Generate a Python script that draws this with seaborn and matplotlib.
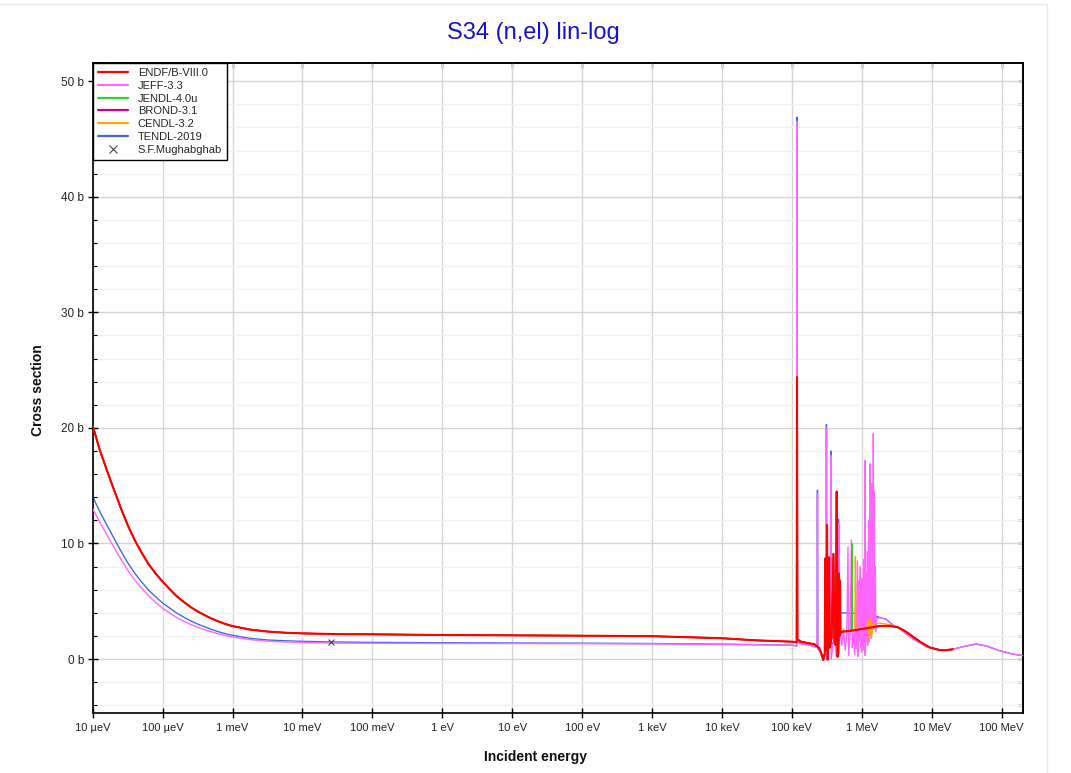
import numpy as np
import pandas as pd
import matplotlib
matplotlib.use("Agg")
import matplotlib.pyplot as plt
import seaborn as sns
from matplotlib.ticker import FixedLocator, MultipleLocator, NullLocator, NullFormatter
from matplotlib.lines import Line2D
from matplotlib.patches import Rectangle

sns.set_style("white")
plt.rcParams['font.family'] = ['Liberation Sans', 'DejaVu Sans']

# ---------------- data (energy in eV, cross section in b) ----------------
low_E = [1e-5, 1.26e-5, 1.58e-5, 2.0e-5, 2.51e-5, 3.16e-5, 3.98e-5, 5.01e-5, 6.31e-5, 7.94e-5,
         1e-4, 1.26e-4, 1.58e-4, 2.0e-4, 2.51e-4, 3.16e-4, 3.98e-4, 5.01e-4, 6.31e-4, 7.94e-4,
         1e-3, 1.78e-3, 3.16e-3, 5.62e-3, 1e-2]

endf_low_s = [20.2, 18.1, 16.4, 14.7, 13.1, 11.6, 10.3, 9.2, 8.2, 7.4,
              6.7, 6.05, 5.45, 4.95, 4.5, 4.12, 3.8, 3.5, 3.25, 3.03,
              2.85, 2.55, 2.38, 2.28, 2.22]
tendl_low_s = [14.05, 12.77, 11.64, 10.49, 9.39, 8.35, 7.44, 6.67, 5.96, 5.39,
               4.85, 4.41, 3.99, 3.63, 3.31, 3.03, 2.79, 2.56, 2.36, 2.19,
               2.05, 1.79, 1.65, 1.58, 1.53]
jeff_low_s = [13.0, 11.85, 10.8, 9.7, 8.68, 7.7, 6.85, 6.13, 5.47, 4.9,
              4.4, 3.98, 3.6, 3.28, 3.0, 2.75, 2.54, 2.35, 2.18, 2.03,
              1.91, 1.68, 1.55, 1.48, 1.44]

endf_hi_E = [3e-2, 0.1, 1, 10, 100, 1e3, 1e4, 3e4,
             1e5, 1.17e5, 1.183e5, 1.2e5, 1.35e5, 1.7e5, 2.1e5, 2.45e5, 2.65e5, 2.8e5, 2.95e5,
             3.01e5, 3.08e5, 3.13e5, 3.18e5, 3.25e5, 3.33e5, 3.40e5, 3.48e5, 3.7e5, 3.93e5,
             4.05e5, 4.25e5, 4.37e5, 4.5e5, 4.65e5, 4.71e5, 4.8e5, 4.87e5, 4.95e5, 5.2e5, 7e5,
             1e6, 1.8e6, 2.5e6, 3.3e6, 4.2e6, 5.4e6, 7e6, 9.3e6, 1.3e7, 1.6e7, 2e7]
endf_hi_s = [2.16, 2.14, 2.08, 2.05, 2.02, 1.98, 1.8, 1.62,
             1.5, 1.45, 24.4, 1.7, 1.5, 1.38, 1.28, 0.95, 0.45, -0.08, 0.5,
             8.7, 1.9, 0.8, 11.6, -0.05, 1.5, 8.8, 1.0, 1.8, 9.1,
             1.6, 1.2, 14.5, 0.2, 1.5, 7.4, 2.0, 6.8, 2.2, 2.36, 2.45,
             2.6, 2.86, 2.87, 2.74, 2.4, 1.93, 1.45, 1.01, 0.78, 0.76, 0.84]

jendl_extra_E = [7.1e5, 7.2e5, 7.3e5]
jendl_extra_s = [2.45, 10.0, 2.46]

cendl_high_E = [5.2e5, 7.5e5, 8.0e5, 8.1e5, 8.2e5, 1.1e6, 1.2e6, 1.24e6, 1.28e6, 1.33e6,
                1.38e6, 1.45e6, 1.8e6, 2.4e6, 3.5e6, 4.2e6, 5.4e6, 7e6, 9.3e6, 1.3e7, 1.6e7, 2e7]
cendl_high_s = [2.4, 2.5, 2.55, 8.85, 2.55, 2.7, 2.8, 3.4, 1.6, 3.5,
                1.9, 3.0, 3.1, 3.0, 2.7, 2.38, 1.93, 1.45, 1.01, 0.78, 0.76, 0.84]

tendl_hi_E = [2.53e-2, 0.1, 1, 10, 100, 1e3, 1e4, 3e4,
              1e5, 1.17e5, 1.183e5, 1.2e5, 1.4e5, 1.8e5, 2.2e5, 2.3e5, 2.32e5, 2.35e5, 2.55e5,
              2.75e5, 2.85e5, 3.0e5, 3.08e5, 3.12e5, 3.17e5, 3.4e5, 3.55e5, 3.6e5, 3.66e5, 4.1e5,
              4.55e5, 4.67e5, 4.78e5, 4.9e5, 9e5, 1.37e6, 1.8e6, 2.24e6, 2.79e6, 3.48e6, 4.83e6,
              8.37e6, 1.3e7, 2e7, 2.8e7, 4.33e7, 6.03e7, 9.36e7, 1.45e8, 2e8]
tendl_hi_s = [1.48, 1.44, 1.41, 1.39, 1.37, 1.34, 1.29, 1.25,
              1.21, 1.14, 46.9, 1.5, 1.3, 1.22, 1.05, 1.4, 14.6, 0.9, 0.6,
              0.05, -0.08, 0.5, 2.0, 20.3, 1.0, 1.8, 2.2, 18.0, 1.2, 1.7,
              2.3, 12.1, 3.0, 4.0, 3.95, 3.85, 3.6, 3.43, 2.94, 2.65, 1.93,
              1.07, 0.78, 0.84, 1.07, 1.30, 1.13, 0.72, 0.43, 0.29]

jeff_hi_E = [2.53e-2, 0.1, 1, 10, 100, 1e3, 1e4, 3e4,
             1e5, 1.17e5, 1.183e5, 1.2e5, 1.4e5, 1.8e5, 2.2e5, 2.3e5, 2.32e5, 2.35e5, 2.55e5,
             2.75e5, 2.85e5, 3.0e5, 3.08e5, 3.12e5, 3.17e5, 3.3e5, 3.55e5, 3.6e5, 3.66e5, 3.85e5,
             4.1e5, 4.3e5, 4.55e5, 4.67e5, 4.75e5, 4.9e5, 5.2e5, 5.5e5, 5.8e5, 6.1e5, 6.34e5,
             6.5e5, 6.8e5, 7.1e5, 7.3e5, 7.6e5, 7.9e5, 8.1e5, 8.3e5, 8.5e5, 8.65e5, 8.8e5, 8.9e5,
             9.05e5, 9.2e5, 9.35e5, 9.45e5,
             9.53e5, 9.65e5, 9.8e5, 9.9e5, 1.0e6, 1.015e6, 1.03e6, 1.045e6, 1.06e6, 1.075e6,
             1.09e6, 1.1e6, 1.11e6, 1.125e6, 1.14e6, 1.155e6, 1.17e6, 1.185e6, 1.2e6, 1.215e6,
             1.23e6, 1.24e6, 1.25e6, 1.265e6, 1.28e6, 1.295e6, 1.31e6, 1.33e6, 1.35e6, 1.37e6,
             1.4e6, 1.42e6, 1.44e6, 1.45e6, 1.46e6, 1.48e6, 1.5e6, 1.52e6, 1.54e6, 1.56e6,
             1.58e6, 1.6e6, 1.65e6, 1.72e6, 1.8e6, 2.24e6, 2.79e6, 3.48e6, 4.83e6, 8.37e6,
             1.3e7, 2e7, 2.8e7, 4.33e7, 6.03e7, 9.36e7, 1.45e8, 2e8]
jeff_hi_s = [1.38, 1.36, 1.35, 1.34, 1.33, 1.31, 1.27, 1.23,
             1.19, 1.12, 46.5, 1.45, 1.27, 1.2, 1.0, 1.35, 14.3, 0.9, 0.6,
             0.05, -0.08, 0.5, 2.0, 20.0, -0.05, 1.3, 2.0, 17.6, -0.05, 1.2,
             1.5, 0.3, 2.0, 11.7, 0.5, 3.0, 1.2, 2.6, 0.8, 2.2, 9.7,
             0.3, 2.0, 10.3, 1.0, 2.4, 0.4, 4.5, 0.9, 5.5, 8.5, 1.2, 0.2,
             6.0, 6.8, 1.5, 7.2,
             8.0, 1.0, 5.5, 0.6, 7.0, 2.0, 6.2, 0.8, 8.6, 1.0,
             5.0, 0.3, 17.2, 0.5, 7.5, 1.5, 6.0, 2.0, 9.3, 1.2,
             7.8, 2.0, 12.0, 1.5, 7.0, 2.0, 16.9, 2.5, 8.5, 1.8,
             15.2, 3.0, 9.0, 3.5, 19.5, 2.6, 14.5, 2.8, 6.5, 8.0,
             2.4, 3.0, 3.6, 3.5, 3.6, 3.43, 2.94, 2.65, 1.93, 1.07,
             0.78, 0.84, 1.07, 1.30, 1.13, 0.72, 0.43, 0.29]

mugh_E = [0.0253]
mugh_s = [1.47]

xtick_vals = [1e-5, 1e-4, 1e-3, 1e-2, 1e-1, 1, 10, 100, 1e3, 1e4, 1e5, 1e6, 1e7, 1e8]
xtick_labels = ["10 µeV", "100 µeV", "1 meV", "10 meV", "100 meV", "1 eV", "10 eV",
                "100 eV", "1 keV", "10 keV", "100 keV", "1 MeV", "10 MeV", "100 MeV"]
ytick_vals = [0, 10, 20, 30, 40, 50]
ytick_labels = ["0 b", "10 b", "20 b", "30 b", "40 b", "50 b"]

# ---------------- derived tables ----------------
endf = pd.DataFrame({"E": low_E + endf_hi_E, "s": endf_low_s + endf_hi_s})
jendl = pd.concat([endf, pd.DataFrame({"E": jendl_extra_E, "s": jendl_extra_s})]).sort_values("E")
cendl = pd.concat([endf[endf.E < 5.0e5],
                   pd.DataFrame({"E": cendl_high_E, "s": cendl_high_s})]).sort_values("E")
brond = endf.copy()
tendl = pd.DataFrame({"E": low_E + tendl_hi_E, "s": tendl_low_s + tendl_hi_s})
jeff = pd.DataFrame({"E": low_E + jeff_hi_E, "s": jeff_low_s + jeff_hi_s})

series = [
    ("ENDF/B-VIII.0", endf, "#FF0000", 1.5, 6),
    ("JEFF-3.3", jeff, "#FF66FF", 1.0, 3),
    ("JENDL-4.0u", jendl, "#33CC33", 1.0, 4.5),
    ("BROND-3.1", brond, "#CC0099", 1.0, 5),
    ("CENDL-3.2", cendl, "#FFA500", 1.0, 4),
    ("TENDL-2019", tendl, "#4169E1", 1.0, 2),
]

fig = plt.figure(figsize=(10.71, 7.73), dpi=100)
fig.patches.append(Rectangle((-0.01, -0.01), 1047 / 1071 + 0.01, 1 - 4 / 773 + 0.01,
                             transform=fig.transFigure, fill=False,
                             edgecolor="#E8E8E8", lw=1.0))
ax = fig.add_axes([92.7 / 1071, 1 - 713 / 773, 930 / 1071, 650 / 773])

for label, df, color, lw, z in series:
    sns.lineplot(data=df, x="E", y="s", ax=ax, color=color, linewidth=lw,
                 estimator=None, sort=False, zorder=z, legend=False)

sns.scatterplot(x=mugh_E, y=mugh_s, ax=ax, marker="x", color="#444444", s=18,
                linewidth=0.8, zorder=7, legend=False)

ax.set_xscale("log")
ax.set_xlim(1e-5, 2e8)
ax.set_ylim(-4.67, 51.58)
ax.set_xlabel("")
ax.set_ylabel("")

ax.xaxis.set_major_locator(FixedLocator(xtick_vals))
ax.set_xticklabels(xtick_labels)
ax.xaxis.set_minor_locator(NullLocator())
ax.yaxis.set_major_locator(FixedLocator(ytick_vals))
ax.set_yticklabels(ytick_labels)
ax.yaxis.set_minor_locator(MultipleLocator(2))

ax.tick_params(axis="both", which="major", direction="inout", length=7, width=1.0,
               color="black", labelcolor="#222222", labelsize=8, bottom=True, left=True,
               top=False, right=False)
ax.tick_params(axis="x", which="major", pad=4)
ax.tick_params(axis="y", which="major", pad=2.5, labelsize=8.5)
ax.tick_params(axis="y", which="minor", direction="in", length=3, width=0.8,
               left=True, right=False, color="black")

ax.set_axisbelow(True)
ax.grid(True, which="major", color="#D6D6D6", lw=1.0)
ax.grid(True, which="minor", axis="y", color="#F1F1F1", lw=1.0)
for sp in ax.spines.values():
    sp.set_color("black")
    sp.set_linewidth(1.2)

secx = ax.secondary_xaxis("top")
secx.xaxis.set_major_locator(FixedLocator(xtick_vals))
secx.xaxis.set_major_formatter(NullFormatter())
secx.xaxis.set_minor_locator(NullLocator())
secx.tick_params(axis="x", which="major", direction="in", length=3.5, width=1.0,
                 top=True, color="black")
secx.spines["top"].set_linewidth(1.2)
secx.spines["top"].set_color("black")

secy = ax.secondary_yaxis("right")
secy.yaxis.set_major_locator(FixedLocator(ytick_vals))
secy.yaxis.set_major_formatter(NullFormatter())
secy.yaxis.set_minor_locator(MultipleLocator(2))
secy.tick_params(axis="y", which="both", direction="in", length=3.5, width=1.0,
                 right=True, color="black")
secy.spines["right"].set_linewidth(1.2)
secy.spines["right"].set_color("black")

handles = [Line2D([], [], color=c, lw=1.6) for (_, _, c, _, _) in series]
labels = [s[0] for s in series]
handles.append(Line2D([], [], color="#444444", marker="x", linestyle="none",
                      markersize=6, markeredgewidth=0.8))
labels.append("S.F.Mughabghab")
leg = ax.legend(handles, labels, loc="upper left", bbox_to_anchor=(0, 1),
                borderaxespad=0, fontsize=8, handlelength=2.7, handletextpad=0.9,
                labelspacing=0.25, borderpad=0.45, fancybox=False, framealpha=1)
leg.get_frame().set_edgecolor("black")
leg.get_frame().set_linewidth(1.0)
leg.set_zorder(10)

fig.text(0.498, 1 - 33 / 773, "S34 (n,el) lin-log", ha="center", va="center",
         color="#1414CC", fontsize=17)
fig.text(0.5, 1 - 757 / 773, "Incident energy", ha="center", va="center",
         fontweight="bold", fontsize=10, color="#111111")
fig.text(38 / 1071, 1 - 390 / 773, "Cross section", ha="center", va="center",
         rotation=90, fontweight="bold", fontsize=10, color="#111111")

fig.savefig("out.png", dpi=100)
